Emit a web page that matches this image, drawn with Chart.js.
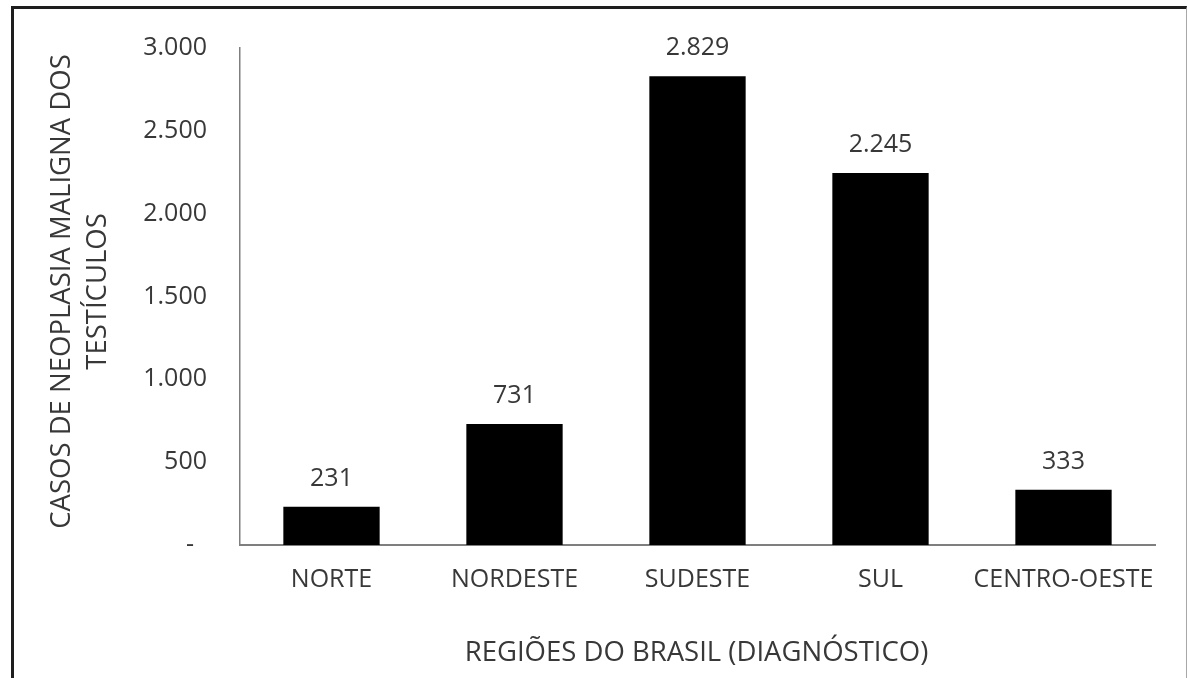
<!DOCTYPE html>
<html lang="pt-BR">
<head>
<meta charset="utf-8">
<title>Casos de neoplasia maligna dos testículos por região</title>
<script src="https://cdn.jsdelivr.net/npm/chart.js@4/dist/chart.umd.min.js"></script>
<style>
  html, body { margin: 0; padding: 0; background: #ffffff; overflow: hidden; }
  #wrap { position: relative; width: 1188px; height: 678px; }
  #frame {
    position: absolute; left: 11px; top: 6px; width: 1172px; height: 700px;
    border-left: 3px solid #1e1e1e; border-top: 3px solid #1e1e1e; border-right: 1px solid #a8a8a8;
  }
  canvas { position: absolute; left: 0; top: 0; }
</style>
</head>
<body>
<div id="wrap">
  <div id="frame"></div>
  <canvas id="chart" width="1188" height="678"></canvas>
</div>
<script>
// Regiões e número de casos diagnosticados
const regioes = ['NORTE', 'NORDESTE', 'SUDESTE', 'SUL', 'CENTRO-OESTE'];
const casos = [231, 731, 2829, 2245, 333];

// Marcas do eixo vertical (0 a 3.000, passo 500)
const yTickValues = [0, 500, 1000, 1500, 2000, 2500, 3000];
const yTickLabels = ['-  ', '500', '1.000', '1.500', '2.000', '2.500', '3.000'];

const yTitle = ['CASOS DE NEOPLASIA MALIGNA DOS', 'TESTÍCULOS'];
const xTitle = 'REGIÕES DO BRASIL (DIAGNÓSTICO)';

const FONT = "'Open Sans', sans-serif";
const TEXT = '#383838';
const AXIS = '#7f7f7f';

const fmt = (v) => v.toLocaleString('pt-BR');

// Rótulos de valor acima de cada barra
const valueLabels = {
  id: 'valueLabels',
  afterDatasetsDraw(chart) {
    const { ctx } = chart;
    const meta = chart.getDatasetMeta(0);
    ctx.save();
    ctx.font = `25px ${FONT}`;
    ctx.fillStyle = TEXT;
    ctx.textAlign = 'center';
    ctx.textBaseline = 'alphabetic';
    meta.data.forEach((bar, i) => {
      ctx.fillText(fmt(casos[i]), bar.x, bar.y - 21);
    });
    ctx.restore();
  }
};

// Títulos dos eixos
const axisTitles = {
  id: 'axisTitles',
  afterDraw(chart) {
    const { ctx, chartArea } = chart;
    ctx.save();
    ctx.font = `27.5px ${FONT}`;
    ctx.fillStyle = TEXT;
    ctx.textAlign = 'center';
    ctx.textBaseline = 'middle';
    // eixo X, centrado sob a área do gráfico
    ctx.fillText(xTitle, (chartArea.left + chartArea.right) / 2 - 1, 653);
    // eixo Y, duas linhas giradas
    const midY = (chartArea.top + chartArea.bottom) / 2 - 5;
    yTitle.forEach((line, i) => {
      ctx.save();
      ctx.translate(62 + i * 36, midY);
      ctx.rotate(-Math.PI / 2);
      ctx.fillText(line, 0, 0);
      ctx.restore();
    });
    ctx.restore();
  }
};

new Chart(document.getElementById('chart'), {
  type: 'bar',
  data: {
    labels: regioes,
    datasets: [{
      data: casos,
      backgroundColor: '#000000',
      borderWidth: 0,
      categoryPercentage: 1,
      barPercentage: 1 / 1.9
    }]
  },
  options: {
    responsive: false,
    animation: false,
    events: [],
    layout: { padding: { left: 12, right: 33, top: 41, bottom: 0 } },
    plugins: { legend: { display: false }, tooltip: { enabled: false } },
    scales: {
      x: {
        grid: { display: false, drawTicks: false },
        border: { display: true, color: AXIS, width: 2 },
        ticks: { color: TEXT, font: { family: FONT, size: 25 }, padding: 20, maxRotation: 0 },
        afterFit(scale) { scale.height = 133; }
      },
      y: {
        min: 0,
        max: 3000,
        grid: { display: false, drawTicks: false },
        border: { display: true, color: AXIS, width: 1.5 },
        afterBuildTicks(scale) { scale.ticks = yTickValues.map(v => ({ value: v })); },
        ticks: {
          color: TEXT, font: { family: FONT, size: 25 }, padding: 33,
          callback: (v) => yTickLabels[yTickValues.indexOf(v)]
        },
        afterFit(scale) { scale.width = 228; }
      }
    }
  },
  plugins: [valueLabels, axisTitles]
});
</script>
</body>
</html>
